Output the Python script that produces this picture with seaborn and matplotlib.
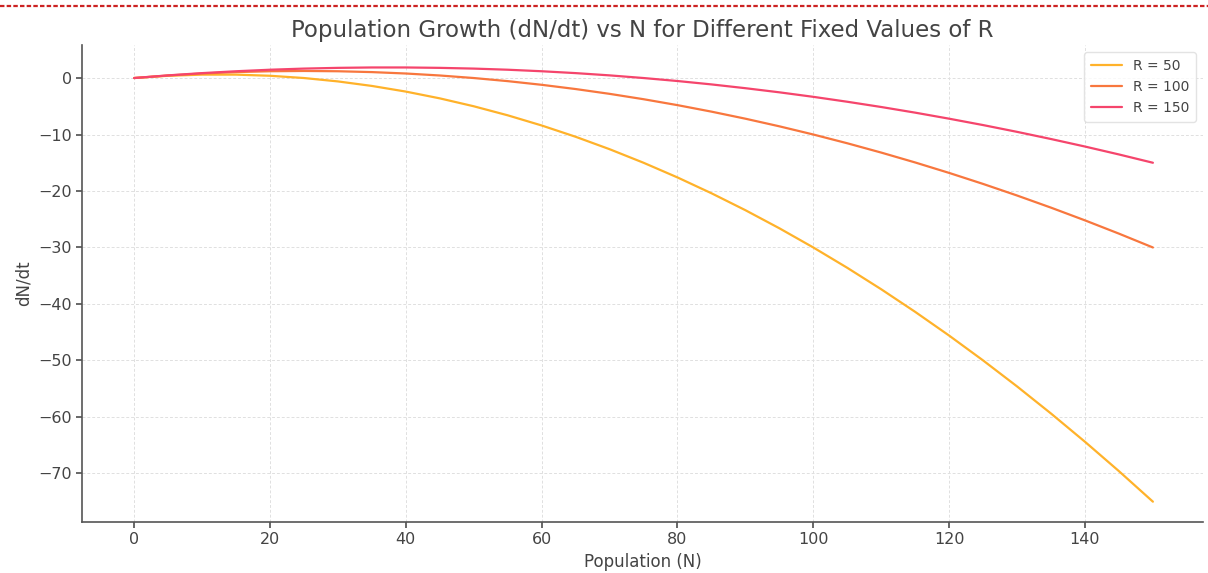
import matplotlib
matplotlib.use("Agg")
import matplotlib.pyplot as plt
import seaborn as sns
import pandas as pd
from matplotlib.lines import Line2D

population = [0, 5, 10, 15, 20, 25, 30, 35, 40, 45, 50, 55, 60, 65, 70, 75,
              80, 85, 90, 95, 100, 105, 110, 115, 120, 125, 130, 135, 140, 145, 150]
growth_r50 = [0, 0.4, 0.6, 0.6, 0.4, 0, -0.6, -1.4, -2.4, -3.6, -5, -6.6, -8.4, -10.4,
              -12.6, -15, -17.6, -20.4, -23.4, -26.6, -30, -33.6, -37.4, -41.4, -45.6,
              -50, -54.6, -59.4, -64.4, -69.6, -75]
growth_r100 = [0, 0.45, 0.8, 1.05, 1.2, 1.25, 1.2, 1.05, 0.8, 0.45, 0, -0.55, -1.2,
               -1.95, -2.8, -3.75, -4.8, -5.95, -7.2, -8.55, -10, -11.55, -13.2, -14.95,
               -16.8, -18.75, -20.8, -22.95, -25.2, -27.55, -30]
growth_r150 = [0, 0.47, 0.87, 1.2, 1.47, 1.67, 1.8, 1.87, 1.87, 1.8, 1.67, 1.47, 1.2,
               0.87, 0.47, 0, -0.53, -1.13, -1.8, -2.53, -3.33, -4.2, -5.13, -6.13, -7.2,
               -8.33, -9.53, -10.8, -12.13, -13.53, -15]
series_labels = ["R = 50", "R = 100", "R = 150"]
colors = ["#FFB22A", "#F8773E", "#F5456C"]

frames = []
for lab, vals in zip(series_labels, [growth_r50, growth_r100, growth_r150]):
    frames.append(pd.DataFrame({"N": population, "dNdt": vals, "R": lab}))
df = pd.concat(frames, ignore_index=True)

sns.set_theme(style="white")
plt.rcParams["font.family"] = ["DejaVu Sans"]

fig = plt.figure(figsize=(12.08, 5.73), dpi=100)
ax = fig.add_axes([0.068, 0.089, 0.928, 0.832])

sns.lineplot(data=df, x="N", y="dNdt", hue="R", palette=colors, ax=ax,
             linewidth=1.6, legend=True)

ax.grid(True, linestyle=(0, (3, 2)), color="#e0e0e0", linewidth=0.7)
ax.set_axisbelow(True)
for s in ["top", "right"]:
    ax.spines[s].set_visible(False)
for s in ["left", "bottom"]:
    ax.spines[s].set_color("#555555")
    ax.spines[s].set_linewidth(1.2)
ax.tick_params(axis="both", colors="#444444", labelsize=11.5, length=4,
               direction="out", bottom=True, left=True, color="#555555")
ax.set_xticks([0, 20, 40, 60, 80, 100, 120, 140])
ax.set_yticks([0, -10, -20, -30, -40, -50, -60, -70])
ax.set_xlim(-7.66, 157.4)
ax.set_ylim(-78.6, 5.8)

ax.set_title("Population Growth (dN/dt) vs N for Different Fixed Values of R",
             fontsize=16.5, color="#444444", pad=6)
ax.set_xlabel("Population (N)", fontsize=12, color="#444444")
ax.set_ylabel("dN/dt", fontsize=12, color="#444444")

leg = ax.legend(loc="upper right", fontsize=10, frameon=True, handlelength=2.2,
                borderpad=0.5, labelspacing=0.5)
leg.get_frame().set_edgecolor("#dddddd")
for t in leg.get_texts():
    t.set_color("#444444")

fig.add_artist(Line2D([0, 1], [0.989, 0.989], transform=fig.transFigure,
                      color="#cc2222", linewidth=1.6, linestyle=(0, (2, 1))))

fig.savefig("out.png", dpi=100)
